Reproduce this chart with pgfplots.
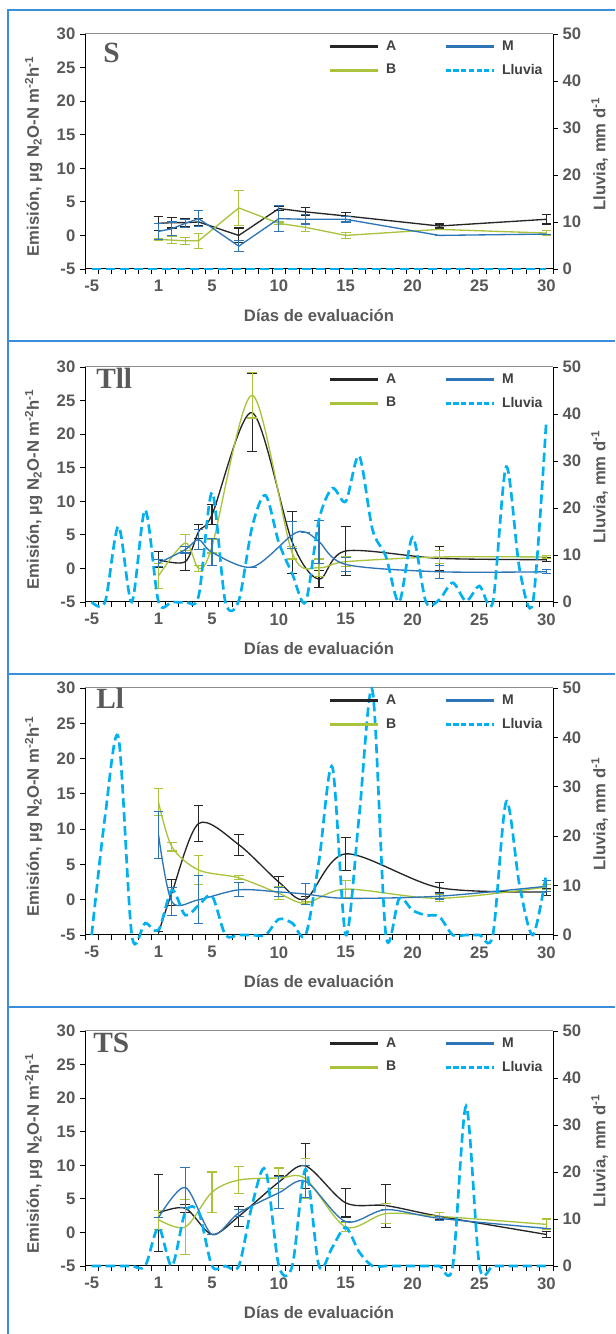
\documentclass[border=0pt]{standalone}
\usepackage{pgfplots}
\pgfplotsset{compat=1.18}
\usepackage{fontspec}
\setmainfont{Liberation Sans}
\newfontfamily\titlefont{Liberation Serif}
\definecolor{cA}{HTML}{262626}
\definecolor{cB}{HTML}{A9C43C}
\definecolor{cM}{HTML}{2E75B6}
\definecolor{cR}{HTML}{00B0F0}
\definecolor{cFrame}{HTML}{3A8EDB}
\definecolor{cTxt}{HTML}{595959}
\definecolor{cLeg}{HTML}{404040}

\pgfplotsset{
  base/.style={
    scale only axis, width=351pt,
    xmin=-0.5, xmax=34.5,
    tick align=outside, major tick length=3.75pt,
    every tick/.style={black, line width=0.6pt},
    tick label style={font=\bfseries\fontsize{12.5}{13}\selectfont, text=cTxt},
    /pgf/number format/assume math mode=true,
    axis line style={line width=0.75pt},
  },
  emis/.style={base,
    ymin=-5, ymax=30, ytick={-5,0,...,30},
    axis x line*=bottom, axis y line*=left,
    xtick={-0.5,0.5,...,34.5}, xticklabels={},
    extra x ticks={0,5,9,14,19,24,29,34},
    extra x tick labels={-5,1,5,10,15,20,25,30},
    extra x tick style={major tick length=0pt, tick label style={yshift=-5pt}},
    xlabel={Días de evaluación},
    ylabel={Emisión, µg N\textsubscript{2}O-N m\textsuperscript{-2}h\textsuperscript{-1}},
    every axis y label/.style={at={([xshift=-38.5pt]rel axis cs:0,0.48)}, rotate=90, anchor=center,
      font=\bfseries\fontsize{12.5}{13}\selectfont, text=cTxt},
    every axis x label/.style={at={([yshift=-34.5pt]rel axis cs:0.5,0)}, anchor=center,
      font=\bfseries\fontsize{12.5}{13}\selectfont, text=cTxt},
    extra description/.code={\draw[black!45, line width=0.75pt] (rel axis cs:0,1) -- (rel axis cs:1,1);},
  },
  rain/.style={base,
    ymin=0, ymax=50, ytick={0,10,...,50},
    axis y line*=right, axis x line=none,
    ylabel={Lluvia, mm d\textsuperscript{-1}},
    every axis y label/.style={at={([xshift=35pt]rel axis cs:1,0.49)}, rotate=90, anchor=center,
      font=\bfseries\fontsize{12.5}{13}\selectfont, text=cTxt},
    clip=false,
    legend columns=2,
    legend cell align=left,
    legend image code/.code={\draw[##1] (0pt,0pt) -- (36pt,0pt);},
    legend style={at={(rel axis cs:0.519,0.985)}, anchor=north west, draw=none, fill=none,
      inner sep=0pt, font=\bfseries\fontsize{10.5}{12}\selectfont, text=cLeg,
      row sep=5pt, nodes={inner sep=2pt},
      /tikz/every odd column/.append style={column sep=3pt},
      /tikz/every even column/.append style={column sep=34pt}},
  },
  errs/.style={error bars/y dir=both, error bars/y explicit, error bars/error mark=|,
    error bars/error bar style={line width=0.8pt, solid},
    error bars/error mark options={line width=0.8pt, mark size=3.6pt, solid}},
  sA/.style={cA, line width=1pt, mark=none, errs},
  sB/.style={cB, line width=1pt, mark=none, errs},
  sM/.style={cM, line width=1pt, mark=none, errs},
  sR/.style={cR, line width=2pt, dash pattern=on 7pt off 3.5pt, mark=none, forget plot},
  legA/.style={cA, line width=2.4pt},
  legB/.style={cB, line width=2.4pt},
  legM/.style={cM, line width=2.4pt},
  legR/.style={cR, line width=2.4pt, dash pattern=on 3.8pt off 2pt},
  sm/.style={smooth, tension=0.5},
}
\newcommand{\rainlegend}{%
  \addlegendimage{legA}\addlegendentry{A}
  \addlegendimage{legM}\addlegendentry{M}
  \addlegendimage{legB}\addlegendentry{B}
  \addlegendimage{legR}\addlegendentry{Lluvia}}

\begin{document}
\begin{tikzpicture}
\path[use as bounding box, fill=white] (0,0) rectangle (461.25pt,1000.5pt);
\draw[cFrame, line width=1.4pt] (6pt,0pt) -- (6pt,993pt) -- (461.25pt,993pt);
\draw[cFrame, line width=1.4pt] (6pt,744.75pt) -- (461.25pt,744.75pt);
\draw[cFrame, line width=1.4pt] (6pt,495pt) -- (461.25pt,495pt);
\draw[cFrame, line width=1.4pt] (6pt,245.25pt) -- (461.25pt,245.25pt);

% ---------------- Panel S ----------------
\begin{axis}[emis, at={(63.75pt,798.75pt)}, anchor=south west, height=176.25pt]
\addplot[sA] coordinates {(5,1.8) +- (0,1.0) (6,1.9) +- (0,0.8) (7,1.9) +- (0,0.6) (8,2.0) +- (0,0.5) (11,0.0) +- (0,1.1) (14,4.0) +- (0,0.3) (16,3.5) +- (0,0.6) (19,2.9) +- (0,0.5) (26,1.4) +- (0,0.3) (34,2.4) +- (0,0.7)};
\addplot[sB] coordinates {(5,-0.6) +- (0,0.15) (6,-0.7) +- (0,0.5) (7,-0.8) +- (0,0.5) (8,-0.8) +- (0,1.1) (11,4.1) +- (0,2.6) (14,1.8) +- (0,0.2) (16,1.2) +- (0,0.6) (19,0.0) +- (0,0.4) (26,0.9) +- (0,0) (34,0.35) +- (0,0.4)};
\addplot[sM] coordinates {(5,0.6) +- (0,1.2) (6,1.0) +- (0,1.0) (7,1.8) +- (0,0.6) (8,2.5) +- (0,1.2) (11,-1.6) +- (0,0.8) (14,2.5) +- (0,1.9) (16,2.4) +- (0,0.7) (19,2.4) +- (0,0.4) (26,0.0) +- (0,0) (34,0.2) +- (0,0)};
\end{axis}
\begin{axis}[rain, at={(63.75pt,798.75pt)}, anchor=south west, height=176.25pt]
\rainlegend
\addplot[sR] coordinates {(0,0) (34,0)};
\end{axis}
\node[anchor=north west, inner sep=0pt, text=cTxt, font=\titlefont\bfseries\fontsize{22}{22}\selectfont] at (77.25pt,968.25pt) {S};

% ---------------- Panel Tll ----------------
\begin{axis}[emis, at={(63.75pt,549pt)}, anchor=south west, height=176.25pt]
\addplot[sA, sm] coordinates {(5,1.3) +- (0,1.2) (7,1.0) +- (0,1.3) (8,5.5) +- (0,1.0) (9,8.0) +- (0,1.5) (12,23.2) +- (0,5.8) (15,3.9) +- (0,4.6) (17,-1.6) +- (0,1.3) (19,2.6) +- (0,3.6) (26,1.5) +- (0,1.8) (34,1.3) +- (0,0.3)};
\addplot[sB, sm] coordinates {(5,-1.1) +- (0,1.9) (7,3.8) +- (0,1.2) (8,0.0) +- (0,0.5) (9,3.3) +- (0,1.0) (12,25.8) +- (0,3.4) (15,2.3) +- (0,0.9) (17,0.1) +- (0,1.3) (19,1.0) +- (0,0.7) (26,1.7) +- (0,1.0) (34,1.7) +- (0,0.2)};
\addplot[sM, sm] coordinates {(5,0.8) +- (0,0.5) (7,2.8) +- (0,0.5) (8,4.3) +- (0,1.5) (9,2.4) +- (0,2.0) (12,0.2) +- (0,0) (15,5.0) +- (0,2.0) (16,5.4) +- (0,0) (17,4.0) +- (0,3.2) (19,0.6) +- (0,1.0) (26,-0.5) +- (0,1.0) (34,-0.5) +- (0,0.3)};
\end{axis}
\begin{axis}[rain, at={(63.75pt,549pt)}, anchor=south west, height=176.25pt]
\rainlegend
\addplot[sR, sm] coordinates {(0,0) (1,0) (2,16.1) (3,0) (4,19.6) (5,0) (6,0) (7,0) (8,1.3) (9,23.3) (10,0) (11,0.3) (12,16) (13,22.7) (14,12.6) (15,6) (16,0) (17,17.5) (18,24.2) (19,21.4) (20,31.1) (21,15.4) (22,9.7) (23,0) (24,13.8) (25,0) (26,0.5) (27,4.1) (28,0.2) (29,3.4) (30,0) (31,28.8) (32,7) (33,0) (34,38.7)};
\end{axis}
\node[anchor=north west, inner sep=0pt, text=cTxt, font=\titlefont\bfseries\fontsize{22}{22}\selectfont] at (72pt,724.5pt) {Tll};

% ---------------- Panel Ll ----------------
\begin{axis}[emis, at={(63.75pt,299.25pt)}, anchor=south west, height=185.25pt]
\addplot[sA, sm] coordinates {(5,-4.7) +- (0,0.2) (6,1.0) +- (0,1.8) (8,10.8) +- (0,2.6) (11,7.8) +- (0,1.5) (14,2.5) +- (0,0.8) (16,0.1) +- (0,0.3) (19,6.5) +- (0,2.3) (26,1.7) +- (0,0.7) (34,1.1) +- (0,0.5)};
\addplot[sB, sm] coordinates {(5,13.8) +- (0,1.9) (6,7.5) +- (0,0.6) (8,4.2) +- (0,2.1) (11,3.1) +- (0,0.3) (14,0.9) +- (0,0.9) (16,-0.5) +- (0,0.2) (19,1.5) +- (0,1.2) (26,0.2) +- (0,0.5) (34,1.8) +- (0,0.3)};
\addplot[sM, sm] coordinates {(5,9.2) +- (0,3.3) (6,-0.3) +- (0,2.0) (8,0.0) +- (0,3.4) (11,1.4) +- (0,1.0) (14,1.1) +- (0,0.6) (16,0.8) +- (0,1.5) (19,0.2) +- (0,0) (26,0.5) +- (0,0.4) (34,1.9) +- (0,0.8)};
\end{axis}
\begin{axis}[rain, at={(63.75pt,299.25pt)}, anchor=south west, height=185.25pt]
\rainlegend
\addplot[sR, sm] coordinates {(0,0) (1,24) (2,40) (3,0) (4,2.4) (5,1.0) (6,9.1) (7,4.0) (8,6.0) (9,7.9) (10,0) (11,0) (12,0) (13,0) (14,3.2) (15,2.4) (16,0) (17,15) (18,34) (19,0) (20,24) (21,49.5) (22,0) (23,7.4) (24,5) (25,4) (26,3.7) (27,0) (28,0) (29,0) (30,0) (31,27) (32,10) (33,0) (34,12.5)};
\end{axis}
\node[anchor=north west, inner sep=0pt, text=cTxt, font=\titlefont\bfseries\fontsize{22}{22}\selectfont] at (72pt,484.5pt) {Ll};

% ---------------- Panel TS ----------------
\begin{axis}[emis, at={(63.75pt,51pt)}, anchor=south west, height=176.25pt]
\addplot[sA, sm] coordinates {(5,2.9) +- (0,5.7) (7,3.6) +- (0,0.6) (9,-0.3) +- (0,0) (11,2.4) +- (0,1.5) (14,7.5) +- (0,1.0) (16,9.9) +- (0,3.4) (19,4.4) +- (0,2.1) (22,4.0) +- (0,3.2) (26,2.4) +- (0,0.5) (34,-0.3) +- (0,0.4)};
\addplot[sB, sm] coordinates {(5,1.9) +- (0,1.4) (7,0.8) +- (0,4.1) (9,6.0) +- (0,3.0) (11,7.8) +- (0,2.0) (14,8.1) +- (0,1.5) (16,8.0) +- (0,3.0) (19,0.8) +- (0,0.7) (22,2.8) +- (0,1.5) (26,2.4) +- (0,0.6) (34,1.2) +- (0,0.8)};
\addplot[sM, sm] coordinates {(5,2.2) +- (0,0) (7,6.7) +- (0,3.0) (9,-0.3) +- (0,0) (11,2.9) +- (0,0.5) (14,5.9) +- (0,2.4) (16,7.6) +- (0,2.4) (19,1.6) +- (0,0) (22,3.4) +- (0,0) (26,2.1) +- (0,0.3) (34,0.6) +- (0,0)};
\end{axis}
\begin{axis}[rain, at={(63.75pt,51pt)}, anchor=south west, height=176.25pt]
\rainlegend
\addplot[sR, sm] coordinates {(0,0) (1,0) (2,0) (3,0) (4,0) (5,8.2) (6,0) (7,11.5) (8,11.5) (9,0) (10,0) (11,0) (12,13) (13,20.5) (14,0) (15,0) (16,20.6) (17,0) (18,4) (19,8.2) (20,3) (21,0) (22,0) (23,0) (24,0) (25,0) (26,0) (27,0) (28,34) (29,0) (30,0) (31,0) (32,0) (33,0) (34,0)};
\end{axis}
\node[anchor=north west, inner sep=0pt, text=cTxt, font=\titlefont\bfseries\fontsize{22}{22}\selectfont] at (69.75pt,225.75pt) {TS};
\end{tikzpicture}
\end{document}
